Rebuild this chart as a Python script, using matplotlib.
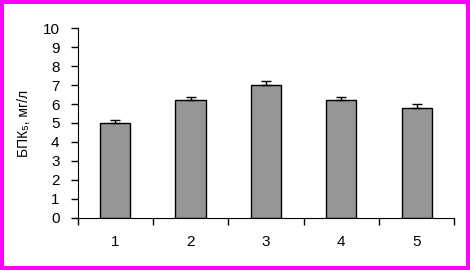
import matplotlib
matplotlib.use("Agg")
import matplotlib.pyplot as plt
import numpy as np
from matplotlib.patches import Rectangle

plt.rcParams['font.family'] = ['Liberation Sans', 'DejaVu Sans']

# data
categories = ["1", "2", "3", "4", "5"]
values = [5.0, 6.2, 7.0, 6.2, 5.8]
errors = [0.15, 0.15, 0.2, 0.15, 0.2]

fig = plt.figure(figsize=(4.7, 2.7), dpi=100)
ax = fig.add_axes([0.165, 0.193, 0.8015, 0.703])

x = np.arange(len(categories))
ax.bar(x, values, width=0.4, color="#969696", edgecolor="black", linewidth=1.0,
       yerr=[[0] * len(errors), errors], capsize=3.3,
       error_kw=dict(ecolor="black", elinewidth=1.0, capthick=1.0))

ax.set_xlim(-0.5, len(categories) - 0.5)
ax.set_ylim(0, 10)
ax.set_yticks(range(0, 11))
ax.set_xticks(x)
ax.set_xticklabels(categories)
# ticks on the x-axis sit between categories
ax.set_xticks(np.arange(-0.5, len(categories)), minor=True)
ax.tick_params(axis="x", which="major", length=0, pad=12, labelsize=11)
ax.tick_params(axis="x", which="minor", length=5, width=1, direction="out")
ax.tick_params(axis="y", length=5, width=1, direction="out", pad=8, labelsize=11)

ax.spines["top"].set_visible(False)
ax.spines["right"].set_visible(False)
ax.set_ylabel("БПК₅, мг/л", fontsize=10, labelpad=8)

# magenta frame round the picture
fig.patches.append(Rectangle((0, 0), 1, 1, transform=fig.transFigure,
                             fill=False, edgecolor="#ff00ff", linewidth=5.8))

fig.savefig("out.png", dpi=100)
